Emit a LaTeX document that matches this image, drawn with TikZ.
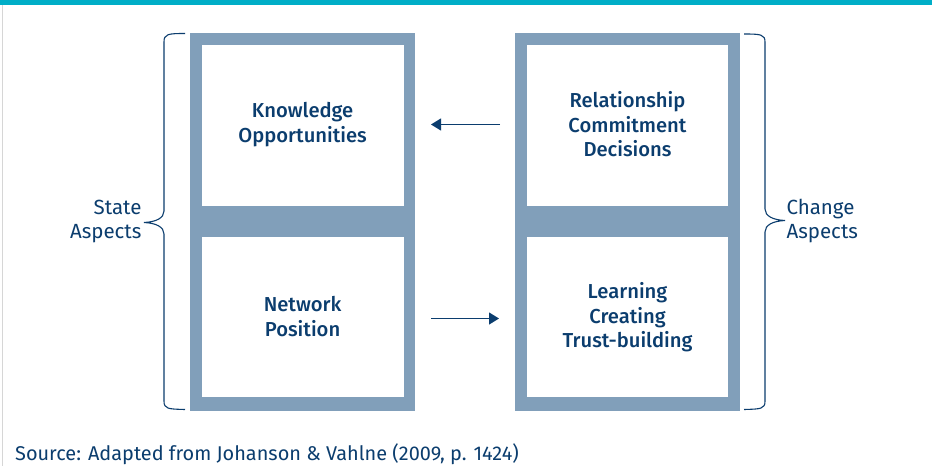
\documentclass[tikz,border=0pt]{standalone}
\usepackage{fontspec}
\setmainfont{Fira Sans}
\newfontfamily\medfont{Fira Sans Medium}
\usetikzlibrary{arrows.meta}
\definecolor{teal}{HTML}{00AEC7}
\definecolor{frame}{HTML}{819FBA}
\definecolor{ink}{HTML}{0B3D6E}
\definecolor{edge}{HTML}{D6D6D6}
\begin{document}
\begin{tikzpicture}[x=1pt,y=-1pt,
  boxtext/.style={text=ink,font=\fontsize{20.2}{24.5}\selectfont\medfont,align=center},
  sidetext/.style={text=ink,font=\fontsize{20.5}{24}\selectfont,align=left},
  srctext/.style={text=ink,font=\fontsize{19.9}{24}\selectfont},
  bracepath/.style={draw=ink,line width=1.1pt},
  flow/.style={draw=ink,line width=1.2pt,-{Triangle[length=10pt,width=12pt]}}]
\useasboundingbox (0,0) rectangle (932,466);
\fill[white] (0,0) rectangle (932,466);
\fill[teal] (0,0) rectangle (932,5);
\fill[edge] (2,5) rectangle (3.2,466);
% frames
\fill[frame] (190,33) rectangle (415,410.7);
\fill[frame] (515,33) rectangle (740,410.7);
\fill[white] (201.7,45) rectangle (403.5,205.7);
\fill[white] (201.7,236.7) rectangle (403.5,397.3);
\fill[white] (526.8,45) rectangle (728.3,205.7);
\fill[white] (526.8,236.7) rectangle (728.3,397.3);
% texts
\node[boxtext] (ko) at (302.6,124.5) {Knowledge\\Opportunities};
\node[boxtext] (np) at (302.6,316.5) {Network\\Position};
\node[boxtext] (rc) at (627.5,124.5) {Relationship\\Commitment\\Decisions};
\node[boxtext] (lc) at (627.5,317.5) {Learning\\Creating\\Trust-building};
% arrows
\coordinate (a1s) at (500,124.5);
\coordinate (a1e) at (431,124.5);
\coordinate (a2s) at (431,318.5);
\coordinate (a2e) at (499,318.5);
\draw[flow] (a1s) -- (a1e);
\draw[flow] (a2s) -- (a2e);
% braces
\draw[bracepath] (185,33.5) .. controls (168,33.5) and (164,34) .. (164,42) -- (164,211)
  .. controls (164,218) and (156,222) .. (144,222.5)
  .. controls (156,223) and (164,227) .. (164,234) -- (164,401)
  .. controls (164,409) and (168,409) .. (185,409.5);
\draw[bracepath] (744,34) .. controls (761,34) and (765,34.5) .. (765,42) -- (765,209)
  .. controls (765,216) and (773,220) .. (785,220.5)
  .. controls (773,221) and (765,225) .. (765,232) -- (765,401)
  .. controls (765,409) and (761,409) .. (744,409.5);
% side labels
\node[sidetext,align=right,anchor=east] (sa) at (145,221) {State\\Aspects};
\node[sidetext,anchor=west] (ca) at (783,221) {Change\\Aspects};
\node[srctext,anchor=base west,inner sep=0pt] (src) at (15,460) {Source: Adapted from Johanson \& Vahlne (2009, p. 1424)};
\end{tikzpicture}
\end{document}
